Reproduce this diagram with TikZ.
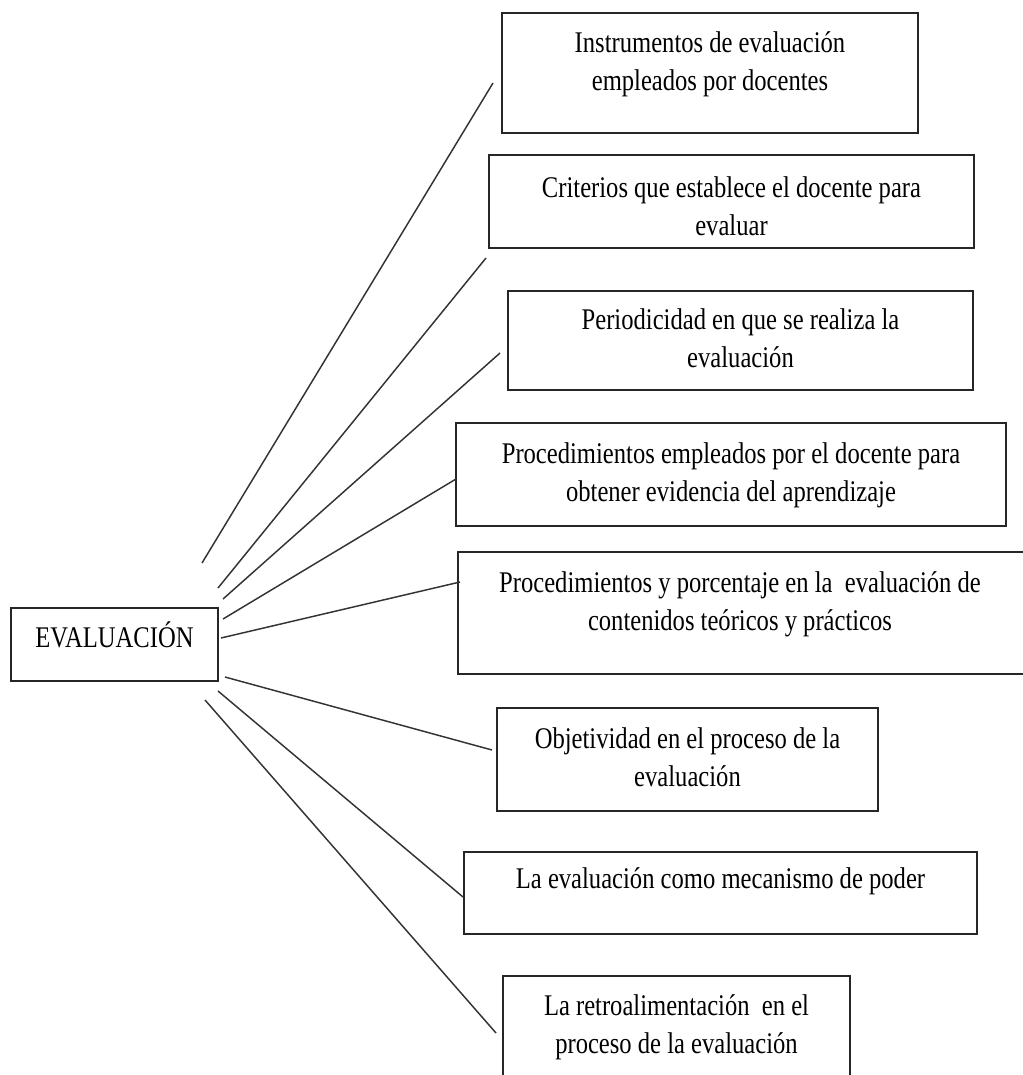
\documentclass[tikz,border=0pt]{standalone}
\usepackage{fontspec}
\setmainfont{Liberation Serif}[FakeStretch=0.82]
\usetikzlibrary{fit}
\tikzset{
  box/.style={draw=black!85, line width=1.3pt, inner sep=0pt, rectangle},
  lbl/.style={anchor=base, inner sep=0pt, font=\fontsize{22.5}{28.5}\selectfont, text=black},
  conn/.style={draw=black!80, line width=1.1pt}
}
\newcommand{\twol}[2]{\begin{tabular}[t]{@{}c@{}}#1\\#2\end{tabular}}
\begin{document}
\begin{tikzpicture}[x=0.75pt,y=-0.75pt]
\useasboundingbox (0,0) rectangle (1023,1075);
\clip (0,0) rectangle (1023,1075);
% central box
\node[box, fit={(11,608) (218,681)}] (ev) {};
\node[lbl] (evt) at (114.5,647) {EVALUACIÓN};
% boxes
\node[box, fit={(502,13) (918,133)}] (b1) {};
\node[lbl] (t1) at (710,52) {\twol{Instrumentos de evaluación}{empleados por docentes}};
\node[box, fit={(489,155) (974,248)}] (b2) {};
\node[lbl] (t2) at (731.5,197) {\twol{Criterios que establece el docente para}{evaluar}};
\node[box, fit={(508,291) (973,390)}] (b3) {};
\node[lbl] (t3) at (740.5,329) {\twol{Periodicidad en que se realiza la}{evaluación}};
\node[box, fit={(456,423) (1006,526)}] (b4) {};
\node[lbl] (t4) at (731,463) {\twol{Procedimientos empleados por el docente para}{obtener evidencia del aprendizaje}};
\node[box, fit={(458,552) (1040,674)}] (b5) {};
\node[lbl] (t5) at (740,592) {\twol{Procedimientos y porcentaje en la \ evaluación de}{contenidos teóricos y prácticos}};
\node[box, fit={(497,708) (878,811)}] (b6) {};
\node[lbl] (t6) at (687.5,748) {\twol{Objetividad en el proceso de la}{evaluación}};
\node[box, fit={(464,852) (977,934)}] (b7) {};
\node[lbl] (t7) at (720.5,888) {La evaluación como mecanismo de poder};
\node[box, fit={(503,976) (850,1100)}] (b8) {};
\node[lbl] (t8) at (676.5,1015) {\twol{La retroalimentación \ en el}{proceso de la evaluación}};
% connector end points
\coordinate (s1) at (202,563); \coordinate (e1) at (493,83);
\coordinate (s2) at (218,588); \coordinate (e2) at (486,258);
\coordinate (s3) at (223,599); \coordinate (e3) at (500,353);
\coordinate (s4) at (223,619); \coordinate (e4) at (456,479);
\coordinate (s5) at (221,638); \coordinate (e5) at (460,582);
\coordinate (s6) at (225,677); \coordinate (e6) at (492,750);
\coordinate (s7) at (218,691); \coordinate (e7) at (463,897);
\coordinate (s8) at (205,700); \coordinate (e8) at (496,1033);
\foreach \i in {1,...,8} { \draw[conn] (s\i) -- (e\i); }
\end{tikzpicture}
\end{document}
